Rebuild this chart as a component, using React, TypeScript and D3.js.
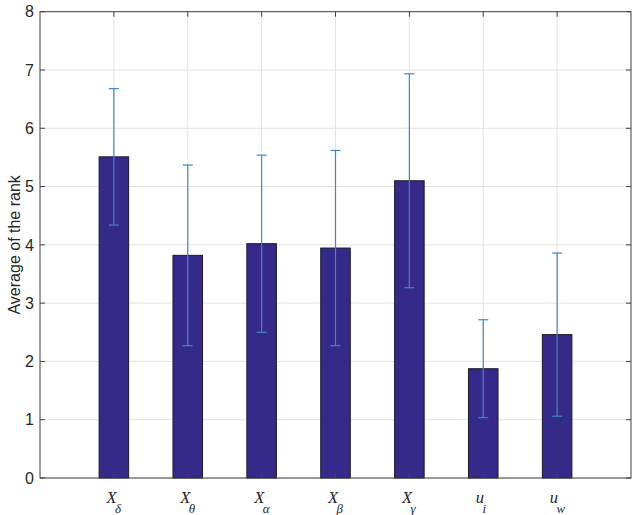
import React from "react";
import * as d3 from "d3";

const categories = ["δ", "θ", "α", "β", "γ", "i", "w"];
const bases = ["X", "X", "X", "X", "X", "u", "u"];
const means = [5.51, 3.82, 4.02, 3.945, 5.1, 1.875, 2.46];
const errors = [1.17, 1.55, 1.52, 1.675, 1.835, 0.84, 1.4];
const yTicks = [0, 1, 2, 3, 4, 5, 6, 7, 8];
const yLabel = "Average of the rank";

const W = 638;
const H = 515;
const left = 40;
const right = 631;
const top = 11.7;
const bottom = 478;

export default function App() {
  const x = d3.scaleLinear().domain([0, categories.length + 1]).range([left, right]);
  const y = d3.scaleLinear().domain([0, 8]).range([bottom, top]);
  const barW = x(0.4) - x(0);
  const capW = 10;
  const axisColor = "#404040";
  const gridColor = "#e3e3e3";
  const barFill = "#35298a";
  const errColor = "#3d87c8";

  return (
    <div style={{ position: "absolute", left: 0, top: 0 }}>
      <svg width={W} height={H} style={{ display: "block", background: "#fff" }}>
        <rect x={left} y={top} width={right - left} height={bottom - top} fill="#fff" />
        {yTicks.map((t) => (
          <line key={"gy" + t} x1={left} x2={right} y1={y(t)} y2={y(t)} stroke={gridColor} strokeWidth={1} />
        ))}
        {categories.map((c, i) => (
          <line key={"gx" + i} x1={x(i + 1)} x2={x(i + 1)} y1={top} y2={bottom} stroke={gridColor} strokeWidth={1} />
        ))}
        {means.map((m, i) => (
          <rect
            key={"b" + i}
            x={x(i + 1) - barW / 2}
            y={y(m)}
            width={barW}
            height={y(0) - y(m)}
            fill={barFill}
            stroke="#1a1a2e"
            strokeWidth={1}
          />
        ))}
        {means.map((m, i) => {
          const cx = x(i + 1);
          const hi = y(m + errors[i]);
          const lo = y(m - errors[i]);
          return (
            <g key={"e" + i} stroke={errColor} strokeWidth={1.2}>
              <line x1={cx} x2={cx} y1={hi} y2={lo} />
              <line x1={cx - capW / 2} x2={cx + capW / 2} y1={hi} y2={hi} />
              <line x1={cx - capW / 2} x2={cx + capW / 2} y1={lo} y2={lo} />
            </g>
          );
        })}
        <rect x={left} y={top} width={right - left} height={bottom - top} fill="none" stroke={axisColor} strokeWidth={1} />
        {yTicks.map((t) => (
          <g key={"ty" + t} stroke={axisColor} strokeWidth={1}>
            <line x1={left} x2={left + 5} y1={y(t)} y2={y(t)} />
            <line x1={right - 5} x2={right} y1={y(t)} y2={y(t)} />
          </g>
        ))}
        {categories.map((c, i) => (
          <g key={"tx" + i} stroke={axisColor} strokeWidth={1}>
            <line x1={x(i + 1)} x2={x(i + 1)} y1={top} y2={top + 5} />
            <line x1={x(i + 1)} x2={x(i + 1)} y1={bottom - 5} y2={bottom} />
          </g>
        ))}
        {yTicks.map((t) => (
          <text
            key={"yl" + t}
            x={34}
            y={y(t)}
            dy="0.36em"
            textAnchor="end"
            fontFamily="Liberation Sans, Arial, sans-serif"
            fontSize={16}
            fill="#262626"
          >
            {t}
          </text>
        ))}
        {categories.map((c, i) => (
          <text
            key={"xl" + i}
            x={x(i + 1) - 7.5}
            y={503}
            fontFamily="Liberation Serif, Times New Roman, serif"
            fontStyle="italic"
            fontSize={16.5}
            fill="#262626"
          >
            {bases[i]}
            <tspan dx={-1.5} dy={10} fontSize={13}>
              {c}
            </tspan>
          </text>
        ))}
        <text
          transform={`translate(20, ${(top + bottom) / 2}) rotate(-90)`}
          textAnchor="middle"
          fontFamily="Liberation Sans, Arial, sans-serif"
          fontSize={16}
          fill="#262626"
        >
          {yLabel}
        </text>
      </svg>
    </div>
  );
}
